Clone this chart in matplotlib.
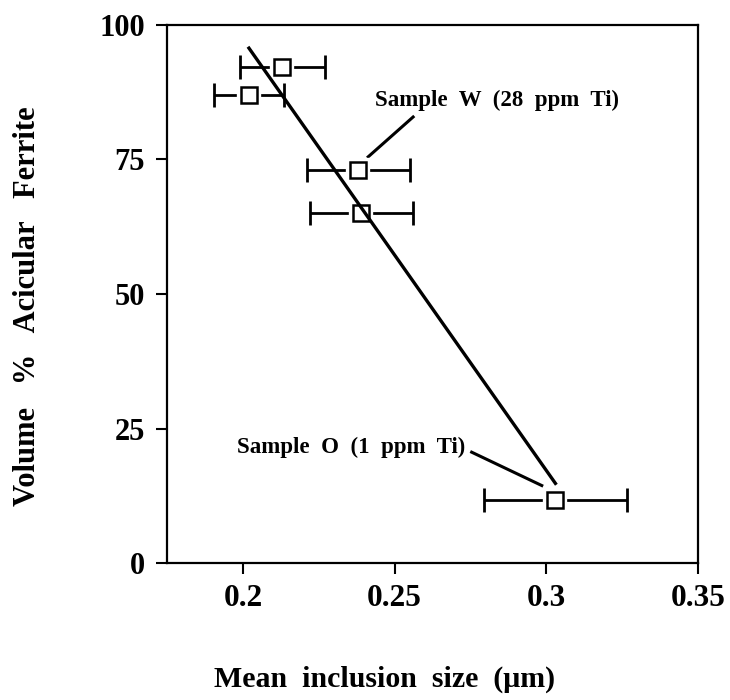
import numpy as np
import matplotlib
matplotlib.use('Agg')
import matplotlib.pyplot as plt
import matplotlib.patheffects as pe

plt.rcParams['font.family'] = ['Liberation Serif', 'DejaVu Serif']
plt.rcParams['font.weight'] = 'bold'
plt.rcParams['axes.labelweight'] = 'bold'

# mean inclusion size (um) with spread, and volume fraction of acicular ferrite
size_um = [0.213, 0.202, 0.238, 0.239, 0.303]
size_err = [0.014, 0.0115, 0.017, 0.017, 0.0235]
af_pct = [92.2, 87.0, 73.0, 65.0, 11.8]

# end points of the drawn trend line
fit_x = [0.202, 0.303]
fit_y = [95.7, 14.8]

x_ticks = [0.2, 0.25, 0.3, 0.35]
y_ticks = [0, 25, 50, 75, 100]

fig = plt.figure(figsize=(7.3, 7.0), dpi=100)
ax = fig.add_axes([0.2288, 0.1957, 0.7274, 0.7686])

# error bars first, squares on top with a white halo so the bars stop short
ax.errorbar(size_um, af_pct, xerr=size_err, fmt='none', ecolor='black',
            elinewidth=2.0, capsize=8.5, capthick=2.0, zorder=2)
ax.plot(size_um, af_pct, 's', ms=11.5, mfc='white', mec='black', mew=1.8,
        zorder=3, path_effects=[pe.withStroke(linewidth=6, foreground='white')])
ax.plot(fit_x, fit_y, color='black', lw=2.4, zorder=4)

# sample labels with leader lines
ax.text(0.2436, 86.0, 'Sample  W  (28  ppm  Ti)', fontsize=16.5, ha='left', va='center')
ax.plot([0.2413, 0.2561], [75.5, 82.9], color='black', lw=2.2)
ax.text(0.2732, 21.4, 'Sample  O  (1  ppm  Ti)', fontsize=16.5, ha='right', va='center')
ax.plot([0.2754, 0.2985], [20.6, 14.4], color='black', lw=2.2)

ax.set_xlim(0.175, 0.35)
ax.set_ylim(0, 100)
ax.set_xticks(x_ticks)
ax.set_xticklabels(['0.2', '0.25', '0.3', '0.35'])
ax.set_yticks(y_ticks)

for s in ax.spines.values():
    s.set_linewidth(1.6)
ax.tick_params(axis='both', direction='out', length=8, width=1.5)
ax.tick_params(axis='x', labelsize=22.5, pad=7)
ax.tick_params(axis='y', labelsize=22, pad=8)

ax.set_xlabel('Mean  inclusion  size  (μm)', fontsize=21.5)
ax.xaxis.set_label_coords(0.409, -0.19)
ax.set_ylabel('Volume   %   Acicular   Ferrite', fontsize=22)
ax.yaxis.set_label_coords(-0.235, 0.478)

fig.savefig('out.png', dpi=100)
